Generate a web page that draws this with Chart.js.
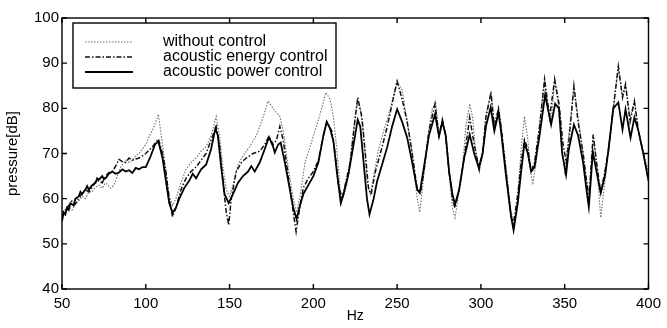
<!DOCTYPE html>
<html>
<head>
<meta charset="utf-8">
<script src="https://cdn.jsdelivr.net/npm/chart.js@4.4.1/dist/chart.umd.min.js"></script>
<style>
  html, body { margin: 0; padding: 0; background: #fff; }
</style>
</head>
<body>
<canvas id="chart" width="667" height="328"></canvas>
<script>
// frequency ticks / level ticks
const xTicks = [50, 100, 150, 200, 250, 300, 350, 400];
const yTicks = [40, 50, 60, 70, 80, 90, 100];

// without control (dotted)
const hzWithout = [50, 52, 54, 56, 58, 60, 62, 64, 66, 68, 70, 72, 74, 76, 78, 79, 81, 82, 85, 88, 90, 92, 94, 96, 98, 100, 103, 105, 107.5, 110, 112, 114, 116, 118, 121, 124, 127, 130, 133, 136, 139, 142, 144, 146, 148, 150, 152, 155, 158, 162, 166, 170, 173, 176, 178, 180, 182, 185, 188, 190, 192, 195, 198, 201, 204, 207.5, 210, 212, 214, 216, 218, 220, 223, 226, 228, 230, 232, 234, 236, 239, 242, 246, 250, 253, 256, 259, 262, 263.5, 265, 268, 271, 273, 275, 277, 279, 281, 283, 284.5, 286, 289, 291, 293.3, 295, 297, 299, 301, 303, 306, 308, 310.5, 312, 315, 318, 320, 322, 324, 326, 328, 330, 331, 333, 335, 338, 340, 342, 344, 346, 348, 350, 352, 355.5, 358, 361, 363, 365, 367, 369, 371.5, 374, 376, 379, 382, 384.5, 386.3, 389, 391.6, 394, 397, 400];
const dbWithout = [55.5, 57, 58.2, 57.5, 59, 59.5, 60.5, 60, 61.5, 61.5, 62.5, 63, 62.3, 63.5, 62.8, 62.3, 63, 64, 67, 68.5, 68, 68.5, 69.5, 70, 71, 72, 74.5, 76, 78.7, 72, 66, 60.5, 58.5, 60, 63.5, 66.5, 68, 69, 70.5, 71.5, 74, 78.2, 74, 67, 62, 60.5, 63, 67.5, 69.5, 71.5, 74, 78, 81.6, 80, 79, 78.2, 75, 67, 60, 57, 60.5, 68, 71.5, 75, 78.7, 83.5, 82, 78, 71, 62, 60.5, 63, 72, 81, 80, 74, 64, 61, 65, 71, 75, 80, 86, 84, 77, 70, 60, 57, 62, 73, 80, 81, 74, 77.5, 74, 66, 58, 55.8, 59, 67, 76, 81, 78, 70, 66, 70, 78.7, 83.5, 76, 80, 76, 67, 57, 55, 60, 71, 78.2, 73, 65, 63.5, 68, 76.4, 86.4, 80, 77, 86.4, 81, 72, 66, 72.7, 84.5, 78, 70, 64, 60.5, 74, 68, 55.8, 64, 71, 80, 89.3, 82.4, 85.3, 78, 81.6, 75, 70, 66];

// acoustic energy control (dash-dot)
const hzEnergy = [50, 52, 54, 56, 58, 60, 62, 64, 66, 68, 70, 72, 74, 76, 78, 80, 82, 84, 86, 88, 90, 92, 94, 96, 98, 100, 104, 107.5, 110, 112, 114, 116, 118, 121, 124, 127, 130, 133, 136, 139, 142, 144, 146, 148, 149.5, 151, 154, 157, 160, 164, 168, 171, 173.5, 176, 178, 180, 182, 185, 188, 189.7, 191, 194, 197, 200, 203, 206, 208, 211, 213, 215, 217, 219, 222, 225, 226.5, 229, 231, 233, 234.5, 237, 240, 244, 247, 250, 253, 256, 259, 262, 264, 266, 269, 272.6, 275, 277, 279, 281, 283, 284.5, 287, 290, 293.3, 296, 299, 301, 303, 306, 308, 310.5, 312, 315, 318, 319.5, 322, 324, 326, 328, 330, 332, 335, 338, 341, 344, 346.6, 349, 351, 352.5, 355.5, 358, 361, 363, 364.5, 367, 369, 371.5, 374, 376, 379, 382, 384.5, 386.3, 389, 391.6, 394, 397, 400];
const dbEnergy = [56, 57.5, 58.5, 59.5, 58.8, 60, 61.2, 62, 61.5, 62.5, 63.8, 64, 63.5, 65, 65.8, 66, 67.2, 68.7, 68.2, 68, 69, 68.5, 68.8, 69, 69.5, 70, 71.5, 73.2, 70, 66, 60, 56, 58, 62, 64.5, 66, 67, 68.5, 70, 73, 76, 72, 64, 57, 54.2, 60, 66, 68, 69, 70, 70.5, 72, 73.8, 72, 73, 76, 73, 65, 57, 52.7, 56, 62.4, 64.5, 66, 68.5, 74, 77, 75, 70, 63, 60, 63, 68, 78, 82.4, 78, 70, 62, 61, 66, 70, 75.8, 81, 86, 82, 77, 70, 62, 61.5, 66, 75, 81, 74, 77.5, 74, 66, 60, 58, 62, 69, 78, 72, 66.5, 70, 78, 83.5, 76, 80, 76, 66, 56, 54.5, 61, 68, 73, 71, 66, 68, 76, 86.4, 78, 86.4, 81, 72, 68, 72.7, 85, 77, 70, 64, 60, 74.2, 68, 61.3, 66, 70.4, 80, 89.3, 82.4, 85.3, 77, 81.6, 75, 70, 64];

// acoustic power control (solid)
const hzPower = [50, 51, 52, 53, 54, 55, 57, 58, 60, 61, 62, 64, 65, 66, 68, 70, 71, 72, 74, 75, 76, 78, 80, 82, 84, 86, 88, 90, 92, 94, 96, 98, 100, 103, 105.5, 107.5, 110, 112, 114, 116, 118, 120, 123, 126, 128, 130, 133, 136, 139, 141.5, 143, 145, 147, 149.5, 152, 155, 158, 161, 163, 165, 168, 171, 173.5, 176, 177, 179, 180.5, 183, 186, 188, 190, 192, 194, 197, 200, 203, 206, 208, 210, 212, 214, 216.4, 218, 221, 224, 226.5, 228, 230, 232, 233.5, 236, 238, 241, 244, 247, 250, 253, 256, 259, 262, 263.5, 266, 269, 272.6, 275, 277, 279, 281, 283, 284.5, 287, 290, 293.3, 296, 298.7, 301, 303, 305.8, 308, 310.5, 312, 315, 318, 319.5, 322, 324, 326, 328, 330, 332, 335, 338.3, 341.9, 344.3, 346.6, 348.5, 350.8, 352.5, 355.5, 358, 361, 363, 364.4, 366.8, 369, 371.5, 374, 376, 379, 382, 384.5, 386.3, 389.3, 391.6, 394, 397, 400];
const dbPower = [55, 57, 56.5, 58, 57.5, 59, 58.5, 60, 60.5, 61.5, 61, 62, 62.8, 62, 63, 63.5, 64.5, 64.2, 65, 64.3, 64.5, 65.5, 66, 65.5, 65.8, 66.5, 66, 66.3, 65.7, 66.8, 66.5, 67, 67, 69.5, 72, 72.7, 69, 64, 59, 56.9, 58, 60, 62.4, 64, 65.5, 64.5, 66.5, 67.5, 71, 75.5, 74, 67, 61, 59, 61, 63.5, 65, 66, 67.2, 66, 68, 71, 73.6, 71.5, 70.2, 72, 72.4, 68, 62, 58, 55.5, 58.5, 61, 63, 65, 68, 74, 77, 75.5, 72.7, 66, 59, 61, 65.5, 72, 77.5, 76, 68, 60, 56.5, 60, 63.8, 67.5, 71.3, 76, 79.8, 77, 73.5, 68, 62, 61.3, 67, 74, 78.7, 73.8, 77, 74, 66, 61, 58.7, 62, 69, 74.2, 70, 66.9, 70, 76, 80.2, 75, 79, 75, 65, 56, 53, 59, 66, 72.4, 70, 66, 67, 74, 83, 76.4, 81, 80, 70, 65.3, 71, 76.4, 74, 68, 62, 58.2, 70.4, 66, 61.3, 65, 70.4, 80, 81.3, 75.3, 79.8, 73.5, 78, 75, 69.8, 64];

const labels = ['without control', 'acoustic energy control', 'acoustic power control'];

const pts = (xs, ys) => xs.map((v, i) => ({ x: v, y: ys[i] }));

const styles = [
  { color: '#6e6e6e', width: 1.1, dash: [1.5, 1.5] },
  { color: '#111', width: 1.5, dash: [5, 2, 1.5, 2] },
  { color: '#000', width: 1.8, dash: [] },
];

// box, inward ticks, legend
const frame = {
  id: 'frame',
  afterDatasetsDraw(chart) {
    const { ctx, chartArea: a, scales: { x, y } } = chart;
    ctx.save();
    ctx.strokeStyle = '#000';
    ctx.lineWidth = 1.4;
    ctx.setLineDash([]);
    ctx.strokeRect(a.left, a.top, a.right - a.left, a.bottom - a.top);
    ctx.beginPath();
    xTicks.forEach((v) => {
      const px = x.getPixelForValue(v);
      ctx.moveTo(px, a.bottom); ctx.lineTo(px, a.bottom - 5);
      ctx.moveTo(px, a.top); ctx.lineTo(px, a.top + 5);
    });
    yTicks.forEach((v) => {
      const py = y.getPixelForValue(v);
      ctx.moveTo(a.left, py); ctx.lineTo(a.left + 5, py);
      ctx.moveTo(a.right, py); ctx.lineTo(a.right - 5, py);
    });
    ctx.stroke();

    // legend box
    const lx = 73, ly = 23, lw = 263, lh = 65;
    ctx.fillStyle = '#fff';
    ctx.fillRect(lx, ly, lw, lh);
    ctx.lineWidth = 1.4;
    ctx.strokeRect(lx, ly, lw, lh);
    ctx.font = '16px "Liberation Sans", Arial, sans-serif';
    ctx.textBaseline = 'middle';
    ctx.fillStyle = '#000';
    labels.forEach((t, i) => {
      const ry = 42 + i * 15;
      const s = styles[i];
      ctx.beginPath();
      ctx.strokeStyle = s.color;
      ctx.lineWidth = s.width;
      ctx.setLineDash(s.dash);
      ctx.moveTo(85, ry); ctx.lineTo(133, ry);
      ctx.stroke();
      ctx.setLineDash([]);
      ctx.fillText(t, 163, ry);
    });
    ctx.restore();
  },
};

const series = [pts(hzWithout, dbWithout), pts(hzEnergy, dbEnergy), pts(hzPower, dbPower)];

new Chart(document.getElementById('chart'), {
  type: 'line',
  data: {
    datasets: series.map((d, i) => ({
      label: labels[i],
      data: d,
      borderColor: styles[i].color,
      borderWidth: styles[i].width,
      borderDash: styles[i].dash,
      pointRadius: 0,
      tension: 0,
      fill: false,
      order: 2 - i,
    })),
  },
  options: {
    responsive: false,
    animation: false,
    devicePixelRatio: 1,
    layout: { padding: { top: 18, right: 14, left: 0, bottom: 0 } },
    plugins: { legend: { display: false }, tooltip: { enabled: false } },
    scales: {
      x: {
        type: 'linear',
        min: 50,
        max: 400,
        grid: { display: false, drawTicks: false, tickLength: 0 },
        border: { display: false },
        ticks: {
          stepSize: 50,
          padding: 6,
          color: '#000',
          font: { family: '"Liberation Sans", Arial, sans-serif', size: 15 },
        },
        title: {
          display: true,
          text: 'Hz',
          color: '#000',
          padding: { top: 0, bottom: 3 },
          font: { family: '"Liberation Sans", Arial, sans-serif', size: 14 },
        },
        afterFit: (s) => { s.height = 39; },
      },
      y: {
        min: 40,
        max: 100,
        grid: { display: false, drawTicks: false, tickLength: 0 },
        border: { display: false },
        ticks: {
          stepSize: 10,
          padding: 3,
          color: '#000',
          font: { family: '"Liberation Sans", Arial, sans-serif', size: 15 },
        },
        title: {
          display: true,
          text: 'pressure[dB]',
          color: '#000',
          padding: { top: 4, bottom: 0 },
          font: { family: '"Liberation Sans", Arial, sans-serif', size: 15 },
        },
        afterFit: (s) => { s.width = 62; },
      },
    },
  },
  plugins: [frame],
});
</script>
</body>
</html>
